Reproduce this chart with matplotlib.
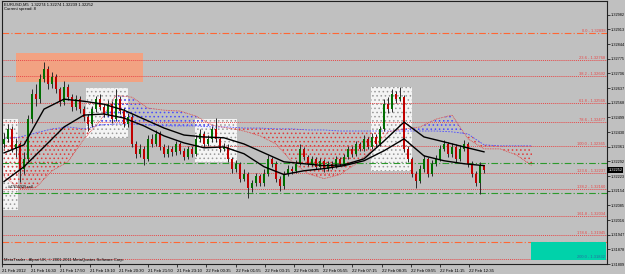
import numpy as np
import matplotlib
matplotlib.use("Agg")
import matplotlib.pyplot as plt
from matplotlib.patches import Rectangle
import matplotlib.transforms as mtransforms

# ---- data ----
closes = [1.32398, 1.32445, 1.32351, 1.32375, 1.32258, 1.32305, 1.32492, 1.32608, 1.32585, 1.32678,
          1.32725, 1.32655, 1.32688, 1.32632, 1.32571, 1.32641, 1.32594, 1.32548, 1.32585, 1.32538,
          1.32501, 1.32468, 1.32538, 1.32585, 1.32548, 1.32515, 1.32562, 1.32492, 1.32585, 1.32529,
          1.32468, 1.32501, 1.32375, 1.32328, 1.32351, 1.32305, 1.32398, 1.32375, 1.32422, 1.32361,
          1.32328, 1.32351, 1.32337, 1.32375, 1.32342, 1.32314, 1.32351, 1.32328, 1.32398, 1.32422,
          1.32375, 1.32398, 1.32445, 1.32398, 1.32351, 1.32361, 1.32305, 1.32258, 1.32281, 1.32211,
          1.32235, 1.32165, 1.32188, 1.32221, 1.32188, 1.32235, 1.32305, 1.32281, 1.32211, 1.32174,
          1.32235, 1.32258, 1.32249, 1.32281, 1.32351, 1.32314, 1.32281, 1.32305, 1.32267, 1.32295,
          1.32258, 1.32281, 1.32267, 1.32305, 1.32281, 1.32314, 1.32351, 1.32328, 1.32375, 1.32351,
          1.32398, 1.32361, 1.32408, 1.32375, 1.32445, 1.32562, 1.32538, 1.32608, 1.32585, 1.32594,
          1.32351, 1.32305, 1.32235, 1.32202, 1.32258, 1.32305, 1.32235, 1.32281, 1.32305, 1.32351,
          1.32375, 1.32328, 1.32361, 1.32305, 1.32351, 1.32375, 1.32281, 1.32235, 1.32188, 1.32274,
          1.32252]
highs = [1.32424, 1.32469, 1.32459, 1.32404, 1.32384, 1.32334, 1.32509, 1.32634, 1.32654, 1.32704,
         1.32762, 1.32739, 1.32714, 1.32704, 1.32644, 1.32669, 1.32654, 1.32609, 1.32604, 1.32599,
         1.32554, 1.32514, 1.32554, 1.32599, 1.32608, 1.32564, 1.32579, 1.32574, 1.32632, 1.32599,
         1.32544, 1.32519, 1.32514, 1.32389, 1.32374, 1.32364, 1.32414, 1.32419, 1.32439, 1.32434,
         1.32374, 1.32369, 1.32364, 1.32389, 1.32384, 1.32354, 1.32364, 1.32364, 1.32414, 1.32444,
         1.32434, 1.32414, 1.32459, 1.32496, 1.32409, 1.32379, 1.32374, 1.32314, 1.32299, 1.32289,
         1.32254, 1.32244, 1.32204, 1.32239, 1.32234, 1.32254, 1.32324, 1.32314, 1.32294, 1.32224,
         1.32249, 1.32274, 1.32269, 1.32299, 1.32375, 1.32359, 1.32324, 1.32319, 1.32314, 1.32309,
         1.32304, 1.32294, 1.32294, 1.32319, 1.32314, 1.32329, 1.32364, 1.32364, 1.32389, 1.32384,
         1.32414, 1.32409, 1.32424, 1.32419, 1.32459, 1.32584, 1.32594, 1.32632, 1.32624, 1.32641,
         1.32604, 1.32364, 1.32314, 1.32249, 1.32274, 1.32324, 1.32314, 1.32299, 1.32324, 1.32369,
         1.32394, 1.32384, 1.32379, 1.32374, 1.32369, 1.32394, 1.32384, 1.32294, 1.32249, 1.32290,
         1.32274]
lows = [1.32354, 1.32384, 1.32334, 1.32314, 1.32197, 1.32234, 1.32294, 1.32474, 1.32554, 1.32569,
        1.32664, 1.32634, 1.32639, 1.32614, 1.32554, 1.32559, 1.32579, 1.32529, 1.32534, 1.32519,
        1.32484, 1.32435, 1.32454, 1.32524, 1.32534, 1.32499, 1.32504, 1.32474, 1.32484, 1.32514,
        1.32454, 1.32454, 1.32359, 1.32309, 1.32314, 1.32276, 1.32294, 1.32359, 1.32364, 1.32344,
        1.32314, 1.32314, 1.32319, 1.32324, 1.32329, 1.32299, 1.32304, 1.32314, 1.32319, 1.32384,
        1.32359, 1.32364, 1.32384, 1.32384, 1.32334, 1.32339, 1.32289, 1.32239, 1.32244, 1.32194,
        1.32199, 1.32118, 1.32149, 1.32174, 1.32174, 1.32174, 1.32224, 1.32264, 1.32194, 1.32151,
        1.32164, 1.32224, 1.32234, 1.32239, 1.32274, 1.32299, 1.32269, 1.32269, 1.32254, 1.32254,
        1.32244, 1.32249, 1.32254, 1.32259, 1.32269, 1.32269, 1.32304, 1.32314, 1.32319, 1.32339,
        1.32339, 1.32349, 1.32349, 1.32359, 1.32364, 1.32434, 1.32519, 1.32524, 1.32569, 1.32574,
        1.32334, 1.32289, 1.32219, 1.32165, 1.32189, 1.32244, 1.32219, 1.32224, 1.32269, 1.32294,
        1.32339, 1.32314, 1.32314, 1.32289, 1.32294, 1.32339, 1.32264, 1.32219, 1.32174, 1.32137,
        1.32239]
first_open = 1.32374

# moving averages, read every 5 bars
ma_bars = list(range(0, 121, 5))
ma_fast = [1.32332, 1.32370, 1.32538, 1.32585, 1.32575, 1.32561, 1.32533, 1.32491, 1.32449, 1.32416,
           1.32407, 1.32403, 1.32374, 1.32332, 1.32290, 1.32281, 1.32272, 1.32276, 1.32304, 1.32388,
           1.32477, 1.32407, 1.32384, 1.32360, 1.32337]
ma_slow = [1.32197, 1.32267, 1.32360, 1.32454, 1.32510, 1.32515, 1.32496, 1.32459, 1.32412, 1.32379,
           1.32356, 1.32360, 1.32328, 1.32267, 1.32230, 1.32248, 1.32258, 1.32272, 1.32295, 1.32342,
           1.32398, 1.32318, 1.32295, 1.32281, 1.32272]

# ichimoku cloud spans, read every 4 bars
cloud_bars = list(range(0, 133, 4))
span_a = [1.32220, 1.32164, 1.32169, 1.32248, 1.32290, 1.32398, 1.32482, 1.32603, 1.32594, 1.32543,
          1.32533, 1.32529, 1.32505, 1.32463, 1.32449, 1.32435, 1.32412, 1.32374, 1.32290, 1.32234,
          1.32211, 1.32230, 1.32281, 1.32342, 1.32431, 1.32445, 1.32454, 1.32491, 1.32510, 1.32398,
          1.32351, 1.32351, 1.32323, 1.32272]
span_b = [1.32398, 1.32407, 1.32426, 1.32445, 1.32454, 1.32445, 1.32463, 1.32468, 1.32468, 1.32463,
          1.32459, 1.32459, 1.32459, 1.32454, 1.32454, 1.32449, 1.32449, 1.32445, 1.32445, 1.32440,
          1.32440, 1.32435, 1.32435, 1.32435, 1.32435, 1.32435, 1.32435, 1.32435, 1.32431, 1.32421,
          1.32370, 1.32365, 1.32365, 1.32365]

# fibonacci levels
fib_pct = ["0.0", "23.6", "38.2", "61.8", "78.6", "100.0", "123.6", "138.2", "161.8", "178.6", "200.0"]
fib_price = [1.32898, 1.32768, 1.32692, 1.32566, 1.32477, 1.32365, 1.32237, 1.32160, 1.32034, 1.31945, 1.31832]
orange_lines = [1.31912]
green_lines = [1.32286, 1.32145]

# rectangles: (bar start, bar end, price low, price high)
salmon_box = (3.0, 34.75, 1.32664, 1.32800)
white_boxes = [(-1.0, 3.5, 1.32061, 1.32491), (20.5, 31.0, 1.32402, 1.32636),
               (47.75, 58.25, 1.32290, 1.32491), (91.75, 102.0, 1.32248, 1.32641)]
cyan_box = (131.75, 150.5, 1.31828, 1.31912)

time_labels = ["21 Feb 2012", "21 Feb 16:30", "21 Feb 17:50", "21 Feb 19:10", "21 Feb 20:30",
               "21 Feb 21:50", "21 Feb 23:10", "22 Feb 00:35", "22 Feb 01:55", "22 Feb 03:15",
               "22 Feb 04:35", "22 Feb 05:55", "22 Feb 07:15", "22 Feb 08:35", "22 Feb 09:55",
               "22 Feb 11:15", "22 Feb 12:35"]
price_ticks = [1.32982, 1.32913, 1.32844, 1.32775, 1.32706, 1.32637, 1.32568, 1.32499, 1.32430,
               1.32361, 1.32292, 1.32223, 1.32154, 1.32085, 1.32016, 1.31947, 1.31878, 1.31809]
last_price = 1.32252

BG = "#c0c0c0"
FONT = ["Liberation Sans", "DejaVu Sans"]
plt.rcParams["font.family"] = FONT
plt.rcParams["hatch.linewidth"] = 0.6

W, H = 625, 274
fig = plt.figure(figsize=(W / 100, H / 100), dpi=100, facecolor=BG)
ax = fig.add_axes([2 / W, 10 / H, 605 / W, 263 / H], facecolor=BG)
ax.set_xlim(-0.5, 150.75)
ax.set_ylim(1.31818, 1.33047)
yblend = mtransforms.blended_transform_factory(ax.transAxes, ax.transData)

# objects
x0, x1, y0, y1 = salmon_box
ax.add_patch(Rectangle((x0, y0), x1 - x0, y1 - y0, facecolor="#f2a282", edgecolor="none", zorder=1))
for (x0, x1, y0, y1) in white_boxes:
    ax.add_patch(Rectangle((x0, y0), x1 - x0, y1 - y0, facecolor="#f4f4f4", edgecolor="#9a9a9a",
                           hatch="....", lw=0, zorder=1))
x0, x1, y0, y1 = cyan_box
ax.add_patch(Rectangle((x0, y0), x1 - x0, y1 - y0, facecolor="#00d2aa", edgecolor="none", zorder=3))

# ichimoku cloud
cb = np.array(cloud_bars)
sa = np.array(span_a)
sb = np.array(span_b)
ax.fill_between(cb, sa, sb, where=sa < sb, interpolate=True, facecolor="none",
                edgecolor="#e03c3c", hatch="....", lw=0, zorder=2)
ax.fill_between(cb, sa, sb, where=sa >= sb, interpolate=True, facecolor="none",
                edgecolor="#4a4aff", hatch="....", lw=0, zorder=2)
ax.plot(cb, sb, color="#5050ff", ls=(0, (2, 1.5)), lw=0.6, zorder=2)
ax.plot(cb, sa, color="#e04040", ls=(0, (1, 1)), lw=0.6, zorder=2)

# horizontal levels
for i, (pct, pr) in enumerate(zip(fib_pct, fib_price)):
    if i == 0:
        ax.axhline(pr, color="#ff6633", ls=(0, (6, 2, 1, 2)), lw=0.8, zorder=2)
    else:
        ax.axhline(pr, color="#e84848", ls=(0, (1, 1)), lw=0.7, zorder=2)
    col = "#2a6aa0" if pct == "200.0" else "#e84848"
    ax.text(0.997, pr, f"{pct} - {pr:.5f}", transform=yblend,
            ha="right", va="bottom", fontsize=2.9, color=col, zorder=4)
for pr in orange_lines:
    ax.axhline(pr, color="#ff6633", ls=(0, (6, 2, 1, 2)), lw=0.8, zorder=2)
for pr in green_lines:
    ax.axhline(pr, color="#2c9a2c", ls=(0, (6, 2, 1, 2)), lw=0.8, zorder=2)

# candles
opens = [first_open] + closes[:-1]
for i, (o, h, l, c) in enumerate(zip(opens, highs, lows, closes)):
    ax.vlines(i, min(l, o, c), max(h, o, c), color="#2a2a2a", lw=0.7, zorder=5)
    col = "#006e00" if c >= o else "#c00000"
    ax.bar(i, max(abs(c - o), 0.00003), bottom=min(o, c), width=0.6, color=col, lw=0, zorder=6)

# moving averages
ax.plot(ma_bars, ma_fast, color="black", lw=1.0, zorder=7)
ax.plot(ma_bars, ma_slow, color="black", lw=1.0, zorder=7)

# axes styling
for s in ax.spines.values():
    s.set_color("#202020")
    s.set_linewidth(0.8)
ax.yaxis.tick_right()
ax.set_yticks(price_ticks)
ax.set_yticklabels([f"{p:.5f}" for p in price_ticks])
ax.tick_params(axis="y", labelsize=2.8, length=2, width=0.5, pad=1.0, colors="black")
tick_pos = [-0.5 + 7.3 * k for k in range(len(time_labels))]
ax.set_xticks(tick_pos)
ax.set_xticklabels(time_labels)
ax.tick_params(axis="x", labelsize=3.1, length=2, width=0.5, pad=1.5, colors="black")
for lbl in ax.get_xticklabels():
    lbl.set_ha("left")

# current price box
ax.text(1.002, last_price, f"{last_price:.5f}", transform=yblend,
        ha="left", va="center", fontsize=2.8, color="white", clip_on=False,
        bbox=dict(boxstyle="square,pad=0.2", facecolor="black", edgecolor="none"), zorder=8)

# captions
ax.text(0.003, 0.996, "EURUSD,M5  1.32274 1.32274 1.32239 1.32252", transform=ax.transAxes,
        ha="left", va="top", fontsize=3.0, color="black", zorder=8)
ax.text(0.003, 0.978, "Current spread: 8", transform=ax.transAxes,
        ha="left", va="top", fontsize=3.0, color="black", zorder=8)
ax.text(0.003, 0.006, "MetaTrader - Alpari UK, \u00a9 2001-2011 MetaQuotes Software Corp.", transform=ax.transAxes,
        ha="left", va="bottom", fontsize=3.0, color="black", zorder=8)
ax.text(1.0, 1.32160, "#47615929 sell", ha="left", va="bottom", fontsize=2.6, color="black", zorder=8)

fig.savefig("out.png", dpi=100, facecolor=BG)
